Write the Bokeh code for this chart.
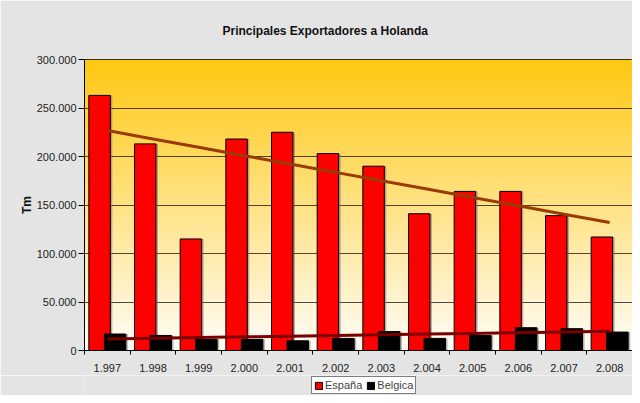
import numpy as np
from bokeh.plotting import figure
from bokeh.layouts import column
from bokeh.models import FixedTicker, Legend, LegendItem, ColumnDataSource
from bokeh.embed import file_html
from bokeh.resources import INLINE

# ---- data ----
years = ["1.997", "1.998", "1.999", "2.000", "2.001", "2.002",
         "2.003", "2.004", "2.005", "2.006", "2.007", "2.008"]
espana = [263000, 213000, 115000, 218000, 225000, 203000,
          190000, 141000, 164000, 164000, 139000, 117000]
belgica = [17000, 15500, 11500, 11500, 10000, 12500,
           19500, 12500, 15500, 23500, 22500, 19000]
y_ticks = [0, 50000, 100000, 150000, 200000, 250000, 300000]
y_tick_labels = ["0", "50.000", "100.000", "150.000", "200.000", "250.000", "300.000"]

FONT = "Liberation Sans"
BG = "#e4e4e4"

idx = np.arange(1, len(years) + 1)

p = figure(width=632, height=375,
           output_backend="svg", toolbar_location=None,
           x_range=(0.5, len(years) + 0.5), y_range=(0, 300000),
           min_border_left=84, min_border_right=0, min_border_top=59,
           min_border_bottom=25)

p.border_fill_color = BG
p.background_fill_color = "#fff8e8"
p.outline_line_color = "#000000"
p.outline_line_width = 1

# gradient background for the plot area
N = 300
img = np.empty((N, 1), dtype=np.uint32)
view = img.view(dtype=np.uint8).reshape((N, 1, 4))
top_c = np.array([255, 200, 18])
bot_c = np.array([255, 253, 248])
for i in range(N):
    f = i / (N - 1)
    c = bot_c + (top_c - bot_c) * f
    view[i, 0, 0] = int(c[0]); view[i, 0, 1] = int(c[1]); view[i, 0, 2] = int(c[2]); view[i, 0, 3] = 255
p.image_rgba(image=[img], x=0.5, y=0, dw=len(years), dh=300000, level="image")

src = ColumnDataSource(dict(x=idx, esp=espana, bel=belgica,
                            xe=idx - 0.17, xb=idx + 0.17,
                            xes=idx - 0.17 + 0.045, xbs=idx + 0.17 + 0.045))

# shadows
p.vbar(x="xes", top="esp", bottom=0, width=0.47, source=src,
       fill_color="#7a7a7a", fill_alpha=0.55, line_color=None)
p.vbar(x="xe", top="esp", bottom=0, width=0.47, source=src,
       fill_color="#ff0000", line_color="#000000", line_width=1)
p.vbar(x="xbs", top="bel", bottom=0, width=0.47, source=src,
       fill_color="#7a7a7a", fill_alpha=0.55, line_color=None)
p.vbar(x="xb", top="bel", bottom=0, width=0.47, source=src,
       fill_color="#000000", line_color="#000000", line_width=1)

# linear trend lines
ce = np.polyfit(idx, espana, 1)
cb = np.polyfit(idx, belgica, 1)
p.line(idx, np.polyval(ce, idx), line_color="#9a3a06", line_width=3)
p.line(idx, np.polyval(cb, idx), line_color="#7a0000", line_width=3)

# y axis
yax = p.yaxis[0]
yax.ticker = FixedTicker(ticks=y_ticks, minor_ticks=[])
yax.major_label_overrides = {t: l for t, l in zip(y_ticks, y_tick_labels)}
yax.major_tick_out = 6
yax.major_tick_in = 0
yax.major_tick_line_color = "#000000"
yax.axis_line_color = "#000000"
yax.major_label_text_font = FONT
yax.major_label_text_font_size = "11px"
yax.major_label_text_color = "#222222"
yax.major_label_standoff = 2
yax.axis_label = "Tm"
yax.axis_label_text_font = FONT
yax.axis_label_text_font_size = "12px"
yax.axis_label_text_font_style = "bold"
yax.axis_label_text_color = "#111111"
yax.axis_label_standoff = 0

# x axis
xax = p.xaxis[0]
xax.ticker = FixedTicker(ticks=list(idx), minor_ticks=list(np.arange(0.5, len(years) + 1, 1.0)))
xax.major_label_overrides = {int(i): y for i, y in zip(idx, years)}
xax.major_tick_out = 0
xax.major_tick_in = 0
xax.minor_tick_out = 4
xax.minor_tick_in = 0
xax.minor_tick_line_color = "#000000"
xax.axis_line_color = "#000000"
xax.major_label_text_font = FONT
xax.major_label_text_font_size = "11px"
xax.major_label_text_color = "#222222"
xax.major_label_standoff = 9

p.xgrid.visible = False
p.ygrid.ticker = FixedTicker(ticks=y_ticks)
p.ygrid.grid_line_color = "#000000"
p.ygrid.grid_line_alpha = 0.7
p.ygrid.level = "underlay"

# title
p.title.text = "Principales Exportadores a Holanda"
p.title.text_font = FONT
p.title.text_font_size = "12px"
p.title.text_font_style = "bold"
p.title.text_color = "#111111"
p.title.align = "left"
p.title.offset = 138
p.title.standoff = 43

# legend strip below the chart (swatch renderers sit outside the visible range)
p2 = figure(width=632, height=20, output_backend="svg", toolbar_location=None,
            x_range=(0, 1), y_range=(0, 1), min_border=0)
p2.axis.visible = False
p2.grid.visible = False
p2.outline_line_color = None
p2.background_fill_color = BG
p2.border_fill_color = BG
k_esp = p2.vbar(x=[5], top=[5], bottom=[5], width=0.5,
                fill_color="#ff0000", line_color="#000000")
k_bel = p2.vbar(x=[5], top=[5], bottom=[5], width=0.5,
                fill_color="#000000", line_color="#000000")
legend = Legend(items=[LegendItem(label="España", renderers=[k_esp]),
                       LegendItem(label="Belgica", renderers=[k_bel])],
                orientation="horizontal", location=(227, 1),
                label_text_font=FONT, label_text_font_size="11px",
                label_height=10, label_standoff=2,
                glyph_width=9, glyph_height=9, spacing=4, padding=2, margin=0,
                border_line_color="#000000", background_fill_color="#ffffff",
                background_fill_alpha=1.0)
p2.add_layout(legend, "center")

layout = column(p, p2, spacing=0)
open("out.html", "w").write(file_html(layout, INLINE))
